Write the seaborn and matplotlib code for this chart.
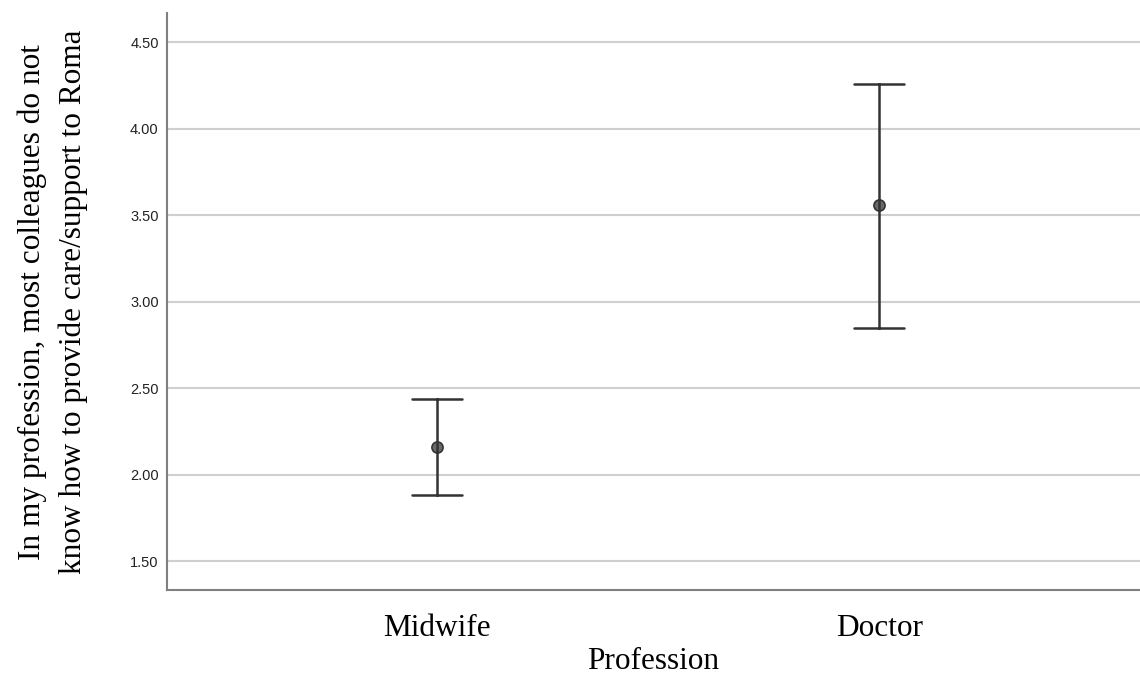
import matplotlib
matplotlib.use("Agg")
import matplotlib.pyplot as plt
import pandas as pd
import seaborn as sns

# valores (média e limites do intervalo de confiança)
profissoes = ["Midwife", "Doctor"]
medias = [2.16, 3.56]
limite_inferior = [1.88, 2.85]
limite_superior = [2.44, 4.26]

# tabela longa: cada profissão com limite inferior, média e limite superior
linhas = []
for prof, lo, m, hi in zip(profissoes, limite_inferior, medias, limite_superior):
    for v in (lo, m, hi):
        linhas.append({"Profession": prof, "valor": v})
df = pd.DataFrame(linhas)

sns.set_style("white")
serif = ["Liberation Serif", "DejaVu Serif"]

fig, ax = plt.subplots(figsize=(11.4, 6.75), dpi=100)
fig.subplots_adjust(left=0.1465, right=1.0, bottom=0.126, top=0.98)

sns.pointplot(data=df, x="Profession", y="valor", order=profissoes,
              estimator="median", errorbar=lambda x: (x.min(), x.max()),
              color="#333333", linestyle="none", capsize=0.113,
              err_kws={"linewidth": 1.8}, markersize=8, ax=ax)

# marcador cinza com borda escura
for linha in ax.lines:
    if linha.get_marker() not in (None, "", "None"):
        linha.set_markerfacecolor("#6a6a6a")
        linha.set_markeredgecolor("#333333")
        linha.set_markeredgewidth(1.2)

ax.set_ylim(1.333, 4.667)
ax.set_xlim(-0.611, 1.59)
ax.set_yticks([1.5, 2.0, 2.5, 3.0, 3.5, 4.0, 4.5])
ax.set_yticklabels([f"{v:.2f}" for v in [1.5, 2.0, 2.5, 3.0, 3.5, 4.0, 4.5]],
                   fontsize=10.5, color="#222222", family="Liberation Sans")
ax.yaxis.grid(True, color="#cfcfcf", linewidth=1.5)
ax.set_axisbelow(True)
ax.tick_params(axis="both", length=0)
ax.tick_params(axis="y", pad=6)
ax.tick_params(axis="x", pad=17)
for lbl in ax.get_xticklabels():
    lbl.set_fontsize(22.5)
    lbl.set_family(serif)
    lbl.set_color("black")

for lado in ["top", "right"]:
    ax.spines[lado].set_visible(False)
for lado in ["left", "bottom"]:
    ax.spines[lado].set_color("#808080")
    ax.spines[lado].set_linewidth(1.5)

ax.set_xlabel("Profession", fontsize=22.5, family=serif, labelpad=3, color="black")
ax.set_ylabel("In my profession, most colleagues do not\nknow how to provide care/support to Roma",
              fontsize=22.5, family=serif, labelpad=30, linespacing=1.55, color="black")

plt.savefig("out.png", dpi=100)
